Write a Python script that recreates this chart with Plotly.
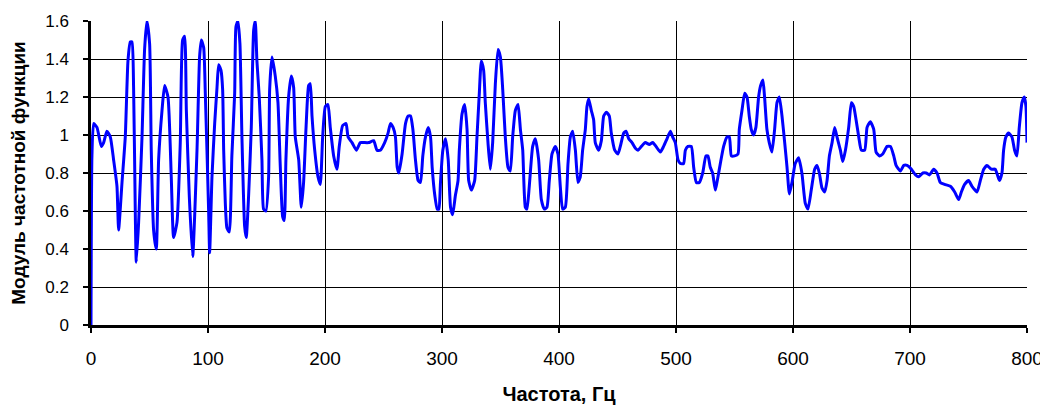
import plotly.graph_objects as go

freq = [
    0, 0.8, 2.3, 5.1, 8.8, 10.8, 13.6, 16.5, 19.3, 22.2,
    23.6, 26.5, 29.3, 31.6, 33.6, 35.0, 36.4, 37.9, 38.7, 40.7,
    43.6, 45.8, 47.8, 50.1, 51.5, 53.5, 55.8, 57.8, 60.7, 62.9,
    65.8, 68.6, 70.6, 73.5, 76.3, 78.3, 80.0, 81.5, 84.0, 86.9,
    90.6, 92.8, 94.3, 96.3, 97.7, 100.5, 101.4, 103.4, 105.7, 107.7,
    109.1, 111.1, 112.5, 113.4, 114.8, 116.2, 118.2, 120.4, 122.8, 123.9,
    125.6, 127.3, 129.0, 131.3, 132.7, 134.7, 137.0, 139.0, 140.4, 141.8,
    143.8, 146.1, 147.5, 149.5, 151.8, 152.7, 154.7, 157.5, 159.8, 161.8,
    163.8, 165.2, 166.6, 168.9, 171.2, 173.2, 174.6, 177.5, 179.7, 181.7,
    183.8, 186.0, 187.4, 188.9, 191.2, 194.0, 196.0, 198.0, 200.3, 202.5,
    204.5, 207.4, 210.2, 212.2, 215.1, 218.0, 219.7, 223.1, 226.8, 230.2,
    233.1, 237.4, 241.6, 244.4, 247.3, 251.0, 253.9, 255.9, 258.2, 260.2,
    261.7, 263.1, 265.9, 268.8, 271.1, 273.1, 275.1, 277.3, 279.6, 281.6,
    283.6, 285.9, 288.2, 290.2, 291.6, 293.9, 295.9, 297.3, 298.7, 300.7,
    303.0, 305.3, 307.3, 309.1, 311.4, 313.7, 314.8, 317.1, 319.4, 321.4,
    322.8, 325.1, 327.9, 329.9, 331.9, 333.6, 335.6, 337.0, 339.3, 341.3,
    343.3, 345.6, 347.9, 349.9, 351.9, 354.1, 356.4, 358.4, 360.4, 362.7,
    365.0, 367.0, 369.0, 371.2, 372.6, 374.6, 377.5, 379.8, 382.6, 384.9,
    387.4, 389.7, 391.7, 394.0, 396.8, 399.1, 401.1, 403.1, 405.4, 407.7,
    409.7, 411.7, 414.0, 416.2, 418.2, 420.2, 422.5, 423.9, 425.4, 427.6,
    429.6, 431.0, 433.9, 436.2, 438.2, 440.5, 443.0, 444.7, 447.6, 450.4,
    452.4, 455.3, 457.3, 459.6, 462.4, 465.3, 467.5, 470.4, 473.8, 477.2,
    480.1, 482.9, 486.6, 489.4, 492.3, 495.2, 497.1, 499.4, 501.7, 503.7,
    506.5, 508.0, 510.2, 513.1, 515.1, 517.4, 519.9, 522.8, 525.6, 527.3,
    529.3, 531.3, 533.6, 535.0, 537.9, 540.7, 543.6, 545.6, 547.3, 550.1,
    553.0, 554.1, 556.4, 558.7, 560.7, 562.6, 564.3, 566.3, 568.3, 570.6,
    572.3, 574.3, 575.7, 577.7, 579.7, 582.0, 584.3, 586.3, 588.3, 590.6,
    592.9, 594.9, 596.9, 599.1, 601.9, 604.8, 607.6, 610.5, 612.8, 615.6,
    618.5, 620.5, 622.5, 624.8, 627.1, 629.1, 631.1, 633.4, 635.6, 637.6,
    640.5, 642.5, 644.8, 647.6, 649.9, 651.9, 653.9, 656.2, 658.4, 661.3,
    663.3, 666.1, 669.0, 671.0, 673.9, 676.7, 680.4, 683.3, 686.1, 688.1,
    691.8, 694.7, 697.5, 701.2, 704.7, 707.5, 711.0, 713.8, 716.7, 720.2,
    723.1, 725.9, 729.6, 734.5, 738.2, 741.6, 743.9, 746.7, 750.1, 753.0,
    757.3, 760.1, 763.0, 765.8, 769.5, 772.9, 776.4, 778.6, 780.0, 782.0,
    784.3, 787.1, 789.4, 791.4, 793.4, 795.7, 797.7, 799.1, 800.0,
]

modulus = [
    0.00, 0.89, 1.06, 1.04, 0.94, 0.96, 1.02, 0.99, 0.87, 0.73,
    0.50, 0.75, 0.99, 1.39, 1.49, 1.49, 1.25, 0.57, 0.33, 0.54,
    0.99, 1.45, 1.60, 1.48, 0.92, 0.50, 0.40, 0.87, 1.13, 1.26,
    1.20, 0.78, 0.46, 0.54, 0.96, 1.50, 1.52, 1.13, 0.68, 0.36,
    0.92, 1.41, 1.50, 1.46, 1.22, 0.61, 0.38, 0.78, 1.06, 1.25,
    1.37, 1.34, 1.24, 0.92, 0.64, 0.51, 0.49, 0.89, 1.22, 1.57,
    1.60, 1.48, 0.99, 0.52, 0.46, 0.68, 1.04, 1.55, 1.60, 1.39,
    1.20, 0.87, 0.61, 0.60, 0.78, 1.24, 1.41, 1.31, 1.17, 0.83,
    0.57, 0.55, 0.87, 1.20, 1.31, 1.25, 0.99, 0.87, 0.62, 0.75,
    1.04, 1.26, 1.27, 1.10, 0.92, 0.78, 0.74, 0.99, 1.15, 1.16,
    1.04, 0.89, 0.82, 0.94, 1.05, 1.06, 0.99, 0.96, 0.92, 0.96,
    0.96, 0.96, 0.97, 0.92, 0.92, 0.96, 1.01, 1.06, 1.04, 0.99,
    0.83, 0.80, 0.90, 1.06, 1.10, 1.10, 1.03, 0.87, 0.76, 0.75,
    0.89, 0.99, 1.04, 0.99, 0.83, 0.68, 0.61, 0.61, 0.75, 0.92,
    0.98, 0.87, 0.62, 0.58, 0.68, 0.76, 0.92, 1.11, 1.16, 1.03,
    0.76, 0.71, 0.76, 0.99, 1.22, 1.39, 1.34, 1.17, 0.96, 0.82,
    0.96, 1.27, 1.45, 1.41, 1.24, 0.99, 0.83, 0.81, 0.99, 1.13,
    1.16, 1.03, 0.92, 0.62, 0.61, 0.73, 0.94, 0.98, 0.87, 0.66,
    0.61, 0.62, 0.76, 0.90, 0.94, 0.90, 0.73, 0.61, 0.62, 0.85,
    0.99, 1.02, 0.92, 0.75, 0.78, 0.92, 1.03, 1.15, 1.19, 1.13,
    1.08, 0.96, 0.92, 0.97, 1.10, 1.12, 1.10, 1.01, 0.92, 0.90,
    0.94, 1.01, 1.02, 0.98, 0.96, 0.93, 0.92, 0.94, 0.96, 0.95,
    0.96, 0.94, 0.91, 0.94, 0.98, 1.02, 0.99, 0.96, 0.87, 0.85,
    0.85, 0.92, 0.94, 0.94, 0.83, 0.75, 0.75, 0.80, 0.89, 0.89,
    0.83, 0.80, 0.71, 0.75, 0.85, 0.94, 0.99, 0.99, 0.89, 0.89,
    0.90, 1.03, 1.13, 1.22, 1.20, 1.10, 1.03, 1.00, 1.04, 1.20,
    1.26, 1.29, 1.20, 1.03, 0.96, 0.91, 1.03, 1.17, 1.20, 1.10,
    0.96, 0.83, 0.69, 0.75, 0.85, 0.88, 0.80, 0.64, 0.61, 0.71,
    0.82, 0.84, 0.80, 0.72, 0.70, 0.76, 0.89, 0.96, 1.04, 0.99,
    0.92, 0.86, 0.92, 1.04, 1.17, 1.15, 1.08, 0.99, 0.92, 0.92,
    1.04, 1.07, 1.03, 0.91, 0.89, 0.90, 0.94, 0.94, 0.89, 0.84,
    0.81, 0.84, 0.84, 0.82, 0.79, 0.78, 0.80, 0.80, 0.79, 0.82,
    0.80, 0.75, 0.74, 0.73, 0.70, 0.66, 0.70, 0.74, 0.76, 0.73,
    0.70, 0.76, 0.82, 0.84, 0.82, 0.82, 0.76, 0.80, 0.92, 0.99,
    1.01, 0.99, 0.92, 0.89, 1.04, 1.17, 1.20, 1.15, 0.96,
]

x_ticks = [0, 100, 200, 300, 400, 500, 600, 700, 800]
y_ticks = [0, 0.2, 0.4, 0.6, 0.8, 1.0, 1.2, 1.4, 1.6]
y_tick_labels = ["0", "0.2", "0.4", "0.6", "0.8", "1", "1.2", "1.4", "1.6"]

FONT = "Arial, Liberation Sans, sans-serif"

fig = go.Figure()
fig.add_trace(go.Scatter(
    x=freq, y=modulus, mode="lines",
    line=dict(color="#0000FF", width=3, shape="spline", smoothing=0.5),
    showlegend=False,
))

fig.update_layout(
    width=1040, height=397,
    margin=dict(l=83, r=21, t=13, b=80, autoexpand=False),
    paper_bgcolor="white", plot_bgcolor="white",
    font=dict(family=FONT, color="black", size=17),
)
fig.update_xaxes(
    range=[0, 800], tickvals=x_ticks, ticktext=[str(v) for v in x_ticks],
    showgrid=True, gridcolor="black", gridwidth=1,
    showline=True, linecolor="black", linewidth=2.5,
    ticks="outside", ticklen=5, tickcolor="black", tickwidth=2,
    zeroline=False, automargin=False,
    tickfont=dict(size=19), ticklabelstandoff=9,
    title=dict(text="<b>Частота, Гц</b>", font=dict(size=20), standoff=20),
)
fig.update_yaxes(
    range=[0, 1.6], tickvals=y_ticks, ticktext=y_tick_labels,
    showgrid=True, gridcolor="black", gridwidth=1,
    showline=True, linecolor="black", linewidth=2.5,
    ticks="outside", ticklen=5, tickcolor="black", tickwidth=2,
    zeroline=False, automargin=False,
    tickfont=dict(size=17), ticklabelstandoff=11,
    title=dict(text="<b>Модуль частотной функции</b>", font=dict(size=19), standoff=16),
)

fig.write_html("out.html")
